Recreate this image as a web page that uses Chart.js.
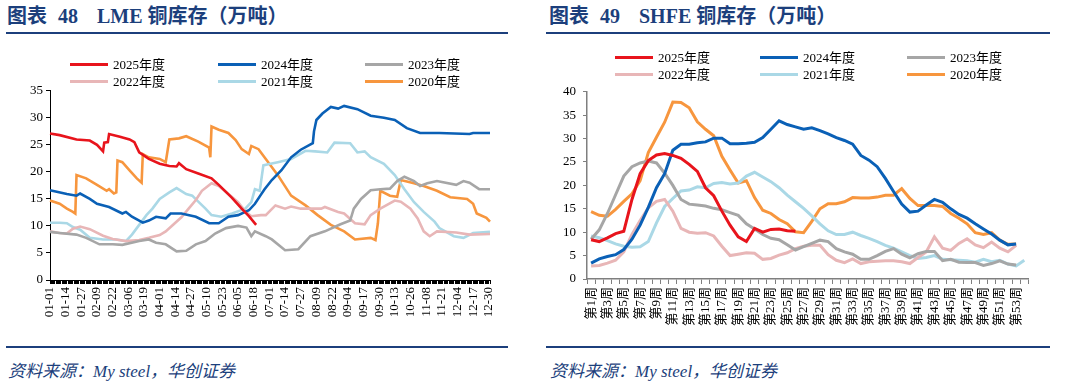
<!DOCTYPE html>
<html>
<head>
<meta charset="utf-8">
<script src="https://cdn.jsdelivr.net/npm/chart.js@4.4.1/dist/chart.umd.min.js"></script>
<style>
body{margin:0;width:1066px;height:388px;background:#fff;position:relative;overflow:hidden;font-family:"Liberation Serif","Noto Sans CJK SC",serif;}
.title{position:absolute;top:5px;font-weight:bold;font-size:20px;line-height:22px;color:#1c3f7c;white-space:nowrap;}
.rule{position:absolute;height:2px;background:#1c3f7c;}
.src{position:absolute;top:362px;font-style:italic;font-size:17px;line-height:20px;color:#1c3f7c;white-space:nowrap;}
.box{position:absolute;}
.leg{position:absolute;font-size:13px;line-height:15px;color:#000;white-space:nowrap;}
.leg i{position:absolute;left:0;top:6px;width:38px;height:3px;}
.leg span{position:absolute;left:43px;top:0;}
</style>
</head>
<body>
<div class="title" style="left:7px"><span>图表</span><span style="margin-left:11px">48</span><span style="margin-left:19px">LME</span><span style="margin-left:5px">铜库存（万吨）</span></div>
<div class="title" style="left:549px"><span>图表</span><span style="margin-left:11px">49</span><span style="margin-left:19px">SHFE</span><span style="margin-left:5px">铜库存（万吨）</span></div>
<div class="rule" style="left:6px;width:502px;top:32px"></div>
<div class="rule" style="left:546px;width:504px;top:32px"></div>
<div class="rule" style="left:6px;width:502px;top:346px"></div>
<div class="rule" style="left:546px;width:504px;top:346px"></div>
<div class="src" style="left:8px">资料来源：My steel，华创证券</div>
<div class="src" style="left:550px">资料来源：My steel，华创证券</div>

<div class="box" style="left:0;top:80px"><canvas id="lme" width="510" height="266"></canvas></div>
<div class="box" style="left:533px;top:77px"><canvas id="shfe" width="510" height="269"></canvas></div>
<div id="legL"></div>
<div id="legR"></div>

<script>
// series names and colours
const years = ['2025年度', '2024年度', '2023年度', '2022年度', '2021年度', '2020年度'];
const colors = ['#e8141c', '#0a60b6', '#a6a6a6', '#e8b6b7', '#aad8e6', '#f7963e'];

// LME: [day of year, value]
const lme2025 = [[0,27.1],[8,26.8],[22,26.0],[33,25.8],[39,25.0],[44,23.8],[45,25.4],[48,25.5],[49,27.0],[58,26.5],[66,26.0],[70,25.5],[74,23.6],[82,22.4],[91,21.5],[99,21.1],[105,21.0],[107,21.6],[113,20.5],[123,19.7],[134,18.8],[140,17.6],[151,15.2],[159,13.2],[165,11.8],[171,10.2]];
const lme2024 = [[0,16.6],[14,15.9],[22,15.6],[25,16.0],[33,15.0],[39,14.1],[49,13.5],[60,12.3],[63,12.6],[68,11.7],[77,10.6],[82,11.0],[88,11.7],[96,11.4],[100,12.3],[109,12.3],[121,11.7],[132,10.5],[140,10.5],[148,11.7],[156,12.0],[165,12.9],[170,14.1],[175,15.8],[178,16.8],[184,18.5],[192,20.3],[200,22.7],[208,24.1],[218,25.3],[219,27.5],[221,29.6],[226,30.8],[233,32.0],[239,31.7],[244,32.2],[255,31.6],[266,30.4],[277,30.0],[286,29.6],[296,28.1],[307,27.2],[323,27.2],[348,27.0],[351,27.2],[365,27.2]];
const lme2023 = [[0,8.9],[8,8.7],[22,8.4],[30,7.8],[41,6.6],[52,6.6],[60,6.5],[74,7.2],[82,7.5],[88,6.9],[96,6.6],[105,5.3],[113,5.4],[121,6.6],[129,7.2],[137,8.6],[146,9.6],[156,10.0],[163,9.7],[167,8.1],[170,9.0],[179,8.1],[184,7.5],[195,5.5],[206,5.7],[216,8.1],[228,9.0],[241,10.3],[249,11.0],[252,13.2],[258,15.0],[266,16.6],[274,16.8],[282,16.9],[288,18.3],[294,19.1],[302,18.3],[307,17.4],[313,17.9],[321,18.3],[337,17.6],[343,18.3],[348,18.0],[356,16.8],[365,16.8]];
const lme2022 = [[0,9.0],[8,8.7],[14,8.6],[19,9.5],[25,9.9],[33,9.4],[44,8.2],[52,7.6],[63,7.2],[74,7.4],[82,7.8],[91,8.3],[96,9.0],[101,10.0],[109,11.6],[115,13.2],[121,14.8],[126,16.5],[134,17.9],[140,17.4],[148,15.9],[156,14.4],[162,12.7],[167,11.8],[175,12.0],[179,12.0],[187,13.8],[195,13.2],[200,13.6],[208,13.2],[225,13.2],[228,13.5],[239,12.6],[244,12.3],[253,10.5],[261,10.3],[266,12.0],[274,13.2],[286,14.7],[291,14.5],[299,13.2],[305,11.4],[310,9.0],[315,8.1],[321,9.0],[337,8.8],[348,8.4],[365,8.5]];
const lme2021 = [[0,10.6],[8,10.6],[14,10.5],[19,9.8],[25,9.3],[33,7.8],[44,7.5],[55,7.5],[60,7.3],[63,7.2],[68,8.4],[74,10.2],[80,12.0],[85,13.2],[91,15.0],[99,16.2],[105,17.0],[113,15.9],[118,15.6],[123,14.5],[129,13.2],[134,12.0],[142,11.7],[151,12.3],[162,13.2],[167,14.4],[170,16.8],[174,16.5],[177,21.2],[181,21.4],[189,21.8],[200,22.4],[212,23.9],[220,23.8],[230,23.6],[236,25.4],[249,25.3],[255,23.6],[261,23.8],[266,22.7],[277,21.5],[286,19.4],[294,16.8],[302,14.4],[310,12.6],[319,10.8],[323,9.6],[335,8.1],[343,7.8],[351,8.7],[365,8.9]];
const lme2020 = [[0,14.7],[8,14.1],[14,13.2],[19,12.6],[21,12.3],[22,19.4],[30,18.8],[39,17.6],[47,16.5],[49,16.8],[53,16.0],[55,16.2],[56,22.1],[60,21.8],[66,20.3],[72,18.8],[76,18.0],[77,23.3],[82,22.7],[91,22.4],[96,21.8],[99,26.0],[107,26.2],[113,26.6],[123,25.6],[132,24.5],[133,22.7],[134,28.4],[140,27.8],[148,27.2],[154,25.9],[159,24.2],[165,23.3],[167,24.8],[173,24.2],[179,22.4],[181,21.8],[189,19.4],[200,15.6],[212,13.8],[222,12.0],[233,10.2],[244,9.0],[253,7.5],[266,7.8],[270,7.4],[272,10.5],[274,16.5],[282,15.6],[288,15.4],[291,18.5],[302,17.9],[310,17.4],[321,16.5],[332,15.3],[346,15.0],[351,14.1],[354,12.3],[362,11.5],[365,10.8]];

// SHFE: weekly values from week 1
const shfe2025 = [8.4,8.0,8.8,9.7,10.2,17.0,22.5,25.3,26.5,26.8,26.4,25.8,24.5,23.0,19.5,17.8,14.5,11.5,9.0,8.0,10.8,10.0,10.6,10.7,10.3,10.2];
const shfe2024 = [3.4,4.3,4.8,5.2,6.3,8.5,11.5,15.3,19.5,22.5,27.5,28.8,28.8,29.1,29.3,30.1,30.1,28.9,28.9,29.0,29.2,30.2,32.0,33.8,33.0,32.5,32.0,32.3,31.7,31.0,30.2,29.6,28.8,26.4,25.4,24.0,21.5,18.7,16.0,14.3,14.5,15.8,17.0,16.4,15.0,13.8,13.0,11.8,10.7,9.6,8.3,7.3,7.5];
const shfe2023 = [8.5,10.5,14.0,18.0,22.0,24.0,24.8,25.2,24.8,22.6,20.0,17.0,16.0,15.8,15.6,15.1,14.8,14.2,13.6,11.8,10.7,9.5,8.7,8.4,7.3,6.2,6.9,7.6,8.3,8.0,6.5,5.8,5.3,4.2,4.2,5.0,5.9,6.5,5.3,4.5,5.4,5.9,5.9,3.9,4.2,3.6,3.5,3.5,2.9,3.3,3.9,3.2,3.0];
const shfe2022 = [2.8,2.9,3.4,4.0,5.8,9.5,12.5,15.2,16.6,17.0,14.5,10.8,10.0,9.8,9.9,9.2,7.0,5.0,5.3,5.6,5.5,4.2,4.4,5.1,5.6,6.5,7.0,7.2,7.2,5.2,4.0,3.5,4.3,3.3,3.7,3.8,3.9,3.9,3.7,3.3,4.6,5.8,9.0,6.6,6.1,7.6,8.6,7.3,6.7,7.9,6.6,5.8,7.2];
const shfe2021 = [9.2,8.8,8.2,7.5,7.0,6.8,6.9,8.0,12.0,15.5,17.2,18.8,19.0,19.7,19.5,20.4,20.6,20.3,20.5,22.0,22.8,21.8,20.8,19.5,17.9,16.5,15.1,13.5,11.8,10.3,9.5,9.5,10.0,9.3,8.7,8.0,7.2,6.6,5.8,5.0,4.4,4.6,5.0,4.2,4.1,4.0,3.9,3.6,4.2,3.7,4.0,3.2,2.8,4.0];
const shfe2020 = [14.4,13.6,13.4,14.9,16.6,18.2,21.0,27.0,30.3,33.5,37.8,37.7,36.6,33.6,32.0,30.6,26.2,23.3,20.5,21.0,17.4,14.7,14.0,12.7,11.8,10.1,9.9,12.3,15.0,16.1,16.1,16.5,17.4,17.3,17.3,17.5,17.9,17.9,19.3,17.2,15.7,15.7,15.7,15.5,14.0,13.0,11.8,9.9,9.5,9.9,8.3,7.4,7.5];

// tick labels
const dayLabels = [];
for (let d = new Date(2024, 0, 1); d.getFullYear() === 2024; d.setDate(d.getDate() + 1)) {
    dayLabels.push(String(d.getMonth() + 1).padStart(2, '0') + '-' + String(d.getDate()).padStart(2, '0'));
}
const weekLabels = [];
for (let w = 1; w <= 54; w++) weekLabels.push('第' + w + '周');

const tickFont = {family: "'Liberation Serif', 'Noto Sans CJK SC', serif", size: 13};

const lmeSeries = [lme2025, lme2024, lme2023, lme2022, lme2021, lme2020];
const shfeSeries = [shfe2025, shfe2024, shfe2023, shfe2022, shfe2021, shfe2020];

toPts = (arr) => arr.map(p => ({x: dayLabels[p[0]], y: p[1]}));

makeSets = (series, conv, width) => series.map((s, i) => ({
    label: years[i],
    data: conv(s),
    borderColor: colors[i],
    backgroundColor: colors[i],
    borderWidth: width,
    pointRadius: 0,
    tension: 0,
    fill: false
}));

new Chart(document.getElementById('lme'), {
    type: 'line',
    data: {labels: dayLabels, datasets: makeSets(lmeSeries, toPts, 2.6)},
    options: {
        responsive: false,
        animation: false,
        events: [],
        layout: {padding: {top: 5, right: 20, left: 0, bottom: 0}},
        plugins: {legend: {display: false}, tooltip: {enabled: false}},
        scales: {
            x: {
                offset: false,
                grid: {drawOnChartArea: false, tickLength: 4, color: '#000'},
                border: {color: '#000'},
                ticks: {autoSkip: false, minRotation: 90, maxRotation: 90, padding: 3, color: '#000', font: tickFont,
                    callback: (v, i) => i % 13 === 0 ? dayLabels[i] : ''},
                afterFit: s => { s.height = 66; }
            },
            y: {
                min: 0, max: 35,
                grid: {drawOnChartArea: false, tickLength: 4, color: '#000'},
                border: {color: '#000'},
                ticks: {stepSize: 5, padding: 3, color: '#000', font: tickFont},
                afterFit: s => { s.width = 50; }
            }
        }
    }
});

new Chart(document.getElementById('shfe'), {
    type: 'line',
    data: {labels: weekLabels, datasets: makeSets(shfeSeries, s => s, 3)},
    options: {
        responsive: false,
        animation: false,
        events: [],
        layout: {padding: {top: 5, right: 10, left: 0, bottom: 0}},
        plugins: {legend: {display: false}, tooltip: {enabled: false}},
        scales: {
            x: {
                offset: true,
                grid: {offset: true, drawOnChartArea: false, tickLength: 5, color: '#7f7f7f'},
                border: {color: '#7f7f7f', width: 1.5},
                ticks: {autoSkip: false, minRotation: 90, maxRotation: 90, padding: 3, color: '#000', font: tickFont,
                    callback: (v, i) => i % 2 === 0 ? weekLabels[i] : ''},
                afterFit: s => { s.height = 67; }
            },
            y: {
                min: 0, max: 40,
                grid: {drawOnChartArea: false, tickLength: 4, color: '#7f7f7f'},
                border: {color: '#7f7f7f', width: 1.5},
                ticks: {stepSize: 5, padding: 7, color: '#000', font: tickFont},
                afterFit: s => { s.width = 54; }
            }
        }
    }
});

// legends, 3 per row
drawLegend = (id, cols, rows) => {
    let html = '';
    years.forEach((name, i) => {
        html += '<div class="leg" style="left:' + cols[i % 3] + 'px;top:' + (rows[Math.floor(i / 3)] - 7) + 'px">' +
            '<i style="background:' + colors[i] + '"></i><span>' + name + '</span></div>';
    });
    document.getElementById(id).innerHTML = html;
}
drawLegend('legL', [70, 218, 365], [64, 81]);
drawLegend('legR', [615, 760, 907], [57, 74]);
</script>
</body>
</html>
